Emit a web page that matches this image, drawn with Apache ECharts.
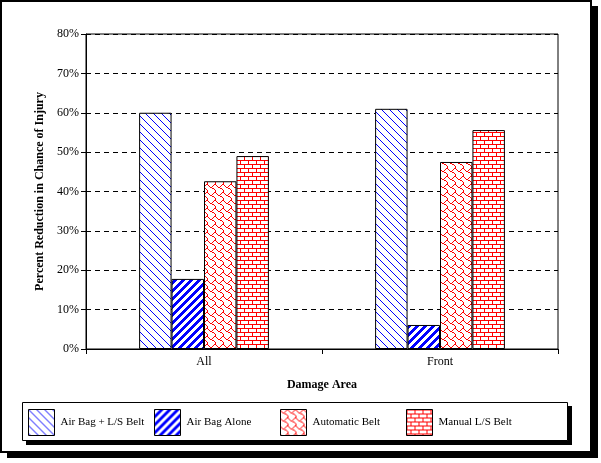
<!DOCTYPE html>
<html><head><meta charset="utf-8">
<script src="https://cdn.jsdelivr.net/npm/echarts@6/dist/echarts.min.js"></script>
<style>html,body{margin:0;padding:0;background:#fff}#c{width:601px;height:463px}</style>
</head><body><div id="c"></div>
<script>
const categories = ['All', 'Front'];
const seriesNames = ['Air Bag + L/S Belt', 'Air Bag Alone', 'Automatic Belt', 'Manual L/S Belt'];
const airBagLS = [60.0, 61.0];
const airBagAlone = [17.8, 6.1];
const automaticBelt = [42.6, 47.5];
const manualLS = [49.0, 55.6];
const yTicks = [0, 10, 20, 30, 40, 50, 60, 70, 80];

function makePattern(color, rows) {
  const c = document.createElement('canvas');
  c.width = 8; c.height = 8;
  const g = c.getContext('2d');
  g.fillStyle = '#fff'; g.fillRect(0, 0, 8, 8);
  g.fillStyle = color;
  for (let y = 0; y < 8; y++) for (let x = 0; x < 8; x++) {
    if (rows[y] & (0x80 >> x)) g.fillRect(x, y, 1, 1);
  }
  return { image: c, repeat: 'repeat' };
}
const pThin = makePattern('#0000ff', [0x80, 0x40, 0x20, 0x10, 0x08, 0x04, 0x02, 0x01]);
const pThick = makePattern('#0000ff', [0x87, 0x0f, 0x1e, 0x3c, 0x78, 0xf0, 0xe1, 0xc3]);
const pShingle = makePattern('#ff0000', [0x03, 0x84, 0x48, 0x30, 0x0c, 0x02, 0x01, 0x01]);
const pBrick = makePattern('#ff0000', [0xff, 0x80, 0x80, 0x80, 0xff, 0x08, 0x08, 0x08]);
const patterns = [pThin, pThick, pShingle, pBrick];
const values = [airBagLS, airBagAlone, automaticBelt, manualLS];

const serif = '"Liberation Serif", "Times New Roman", serif';
const chart = echarts.init(document.getElementById('c'), null, { renderer: 'canvas' });
chart.setOption({
  animation: false,
  backgroundColor: '#fff',
  graphic: [
    { type: 'rect', z: -10, shape: { x: 7, y: 6, width: 591, height: 452 }, style: { fill: '#000' } },
    { type: 'rect', z: -9, shape: { x: 1, y: 1, width: 590, height: 451 }, style: { fill: '#fff', stroke: '#000', lineWidth: 2 } },
    { type: 'rect', z: -8, shape: { x: 26, y: 406, width: 546, height: 39 }, style: { fill: '#000' } },
    { type: 'rect', z: -7, shape: { x: 22.5, y: 402.5, width: 545, height: 38 }, style: { fill: '#fff', stroke: '#000', lineWidth: 1 } }
  ],
  grid: { left: 86, right: 43, top: 34, bottom: 114, show: true, borderColor: '#000', borderWidth: 1, backgroundColor: 'transparent' },
  legend: seriesNames.map((n, i) => ({
    left: 28 + 126 * i, top: 409, itemWidth: 26, itemHeight: 26, itemGap: 0, padding: 0,
    icon: 'rect',
    data: [n],
    textStyle: { fontFamily: serif, fontSize: 11, color: '#000', padding: [0, 0, 0, 1] },
    itemStyle: { borderColor: '#000', borderWidth: 1 }
  })),
  xAxis: {
    type: 'category', data: categories,
    name: 'Damage Area', nameLocation: 'middle', nameGap: 30,
    nameTextStyle: { fontFamily: serif, fontSize: 12, fontWeight: 'bold', color: '#000' },
    axisLine: { lineStyle: { color: '#000', width: 1 } },
    axisTick: { show: true, length: 5, lineStyle: { color: '#000' } },
    axisLabel: { fontFamily: serif, fontSize: 12, color: '#000', margin: 7 }
  },
  yAxis: {
    type: 'value', min: 0, max: 80, interval: 10,
    name: 'Percent Reduction in Chance of Injury', nameLocation: 'middle', nameGap: 40,
    nameTextStyle: { fontFamily: serif, fontSize: 12, fontWeight: 'bold', color: '#000' },
    axisLine: { show: true, lineStyle: { color: '#000', width: 1 } },
    axisTick: { show: true, length: 5, inside: false, lineStyle: { color: '#000' } },
    axisLabel: { fontFamily: serif, fontSize: 12, color: '#000', margin: 7,
      formatter: v => yTicks.includes(v) ? v + '%' : '' },
    splitLine: { show: true, lineStyle: { color: '#000', type: [5, 4], width: 1 } }
  },
  series: seriesNames.map((n, i) => ({
    name: n, type: 'bar', data: values[i],
    barGap: '0%', barCategoryGap: '45%',
    itemStyle: { color: patterns[i], borderColor: '#000', borderWidth: 1 },
    emphasis: { disabled: true }
  }))
});
</script></body></html>
